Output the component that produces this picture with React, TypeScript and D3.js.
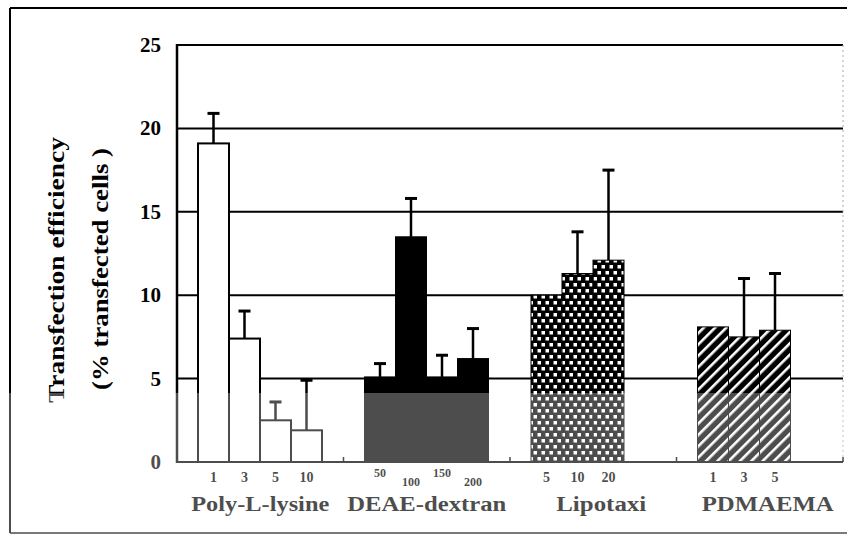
import React from "react";
import * as d3 from "d3";

const groups = ["Poly-L-lysine", "DEAE-dextran", "Lipotaxi", "PDMAEMA"];
const doseLabels = [
  ["1", "3", "5", "10"],
  ["50", "100", "150", "200"],
  ["5", "10", "20"],
  ["1", "3", "5"],
];
const values = [
  [19.1, 7.4, 2.5, 1.9],
  [5.1, 13.5, 5.1, 6.2],
  [10.0, 11.3, 12.1],
  [8.1, 7.5, 7.9],
];
const errors = [
  [1.8, 1.65, 1.1, 3.0],
  [0.8, 2.3, 1.3, 1.8],
  [0, 2.5, 5.4],
  [0, 3.5, 3.4],
];
const yTicks = [0, 5, 10, 15, 20, 25];
const slots = ["s0", "s1", "s2", "s3"];
const fills = ["#ffffff", "#000000", "url(#dots)", "url(#stripes)"];

const W = 847;
const H = 537;
const left = 177;
const right = 843;
const top = 45;
const bottom = 462;
const serif = "'Liberation Serif', 'Times New Roman', serif";

export default function App() {
  const x = d3.scaleBand<string>().domain(groups).range([left, right]).padding(0);
  const inner = d3.scaleBand<string>().domain(slots).range([21, 145]).padding(0);
  const y = d3.scaleLinear().domain([0, 25]).range([bottom, top]);
  const groupLabelWidths = [138, 159, 90, 132];

  return (
    <svg width={W} height={H} style={{ position: "absolute", left: 0, top: 0, background: "#fff" }}>
      <defs>
        <pattern id="dots" width={8} height={12} patternUnits="userSpaceOnUse">
          <rect width={8} height={12} fill="#000" />
          <rect x={1.5} y={1} width={3.5} height={3.5} fill="#fff" />
          <rect x={5.5} y={7} width={3.5} height={3.5} fill="#fff" />
          <rect x={-2.5} y={7} width={3.5} height={3.5} fill="#fff" />
        </pattern>
        <pattern id="stripes" width={8} height={8} patternUnits="userSpaceOnUse" patternTransform="rotate(45)">
          <rect width={8} height={8} fill="#000" />
          <rect x={0} y={0} width={2.6} height={8} fill="#fff" />
        </pattern>
      </defs>

      {/* outer frame */}
      <line x1={10} x2={W} y1={8} y2={8} stroke="#000" strokeWidth={2} />
      <line x1={10} x2={10} y1={8} y2={533} stroke="#000" strokeWidth={2} />
      <line x1={10} x2={W} y1={533} y2={533} stroke="#000" strokeWidth={1.5} />

      {/* gridlines */}
      {yTicks.filter((t) => t > 0).map((t) => (
        <line key={t} x1={left} x2={right} y1={y(t)} y2={y(t)} stroke="#000" strokeWidth={2} />
      ))}
      <line x1={right} x2={right} y1={top} y2={bottom} stroke="#aaa" strokeWidth={1} strokeDasharray="2,3" />

      {/* y tick labels */}
      {yTicks.map((t) => (
        <text key={t} x={161} y={y(t) + 7} textAnchor="end" fontFamily={serif} fontWeight={700} fontSize={21}>
          {t}
        </text>
      ))}

      {/* bars */}
      {groups.map((g, gi) =>
        values[gi].map((v, i) => {
          const bx = (x(g) as number) + (inner(slots[i]) as number);
          const bw = inner.bandwidth();
          return (
            <rect
              key={g + i}
              x={bx}
              y={y(v)}
              width={bw}
              height={bottom - y(v)}
              fill={fills[gi]}
              stroke="#000"
              strokeWidth={gi === 0 ? 2 : 1}
            />
          );
        })
      )}

      {/* error bars */}
      {groups.map((g, gi) =>
        values[gi].map((v, i) => {
          const e = errors[gi][i];
          if (!e) return null;
          const cx = (x(g) as number) + (inner(slots[i]) as number) + inner.bandwidth() / 2;
          return (
            <g key={"e" + g + i}>
              <line x1={cx} x2={cx} y1={y(v)} y2={y(v + e)} stroke="#000" strokeWidth={2.5} />
              <line x1={cx - 6} x2={cx + 6} y1={y(v + e)} y2={y(v + e)} stroke="#000" strokeWidth={3} />
            </g>
          );
        })
      )}

      {/* axes */}
      <line x1={left} x2={left} y1={top - 1} y2={bottom + 1} stroke="#000" strokeWidth={2.5} />
      <line x1={left} x2={right} y1={bottom} y2={bottom} stroke="#000" strokeWidth={2} />
      {groups.map((g) => {
        const gx = (x(g) as number) + x.bandwidth();
        return <line key={"t" + g} x1={gx} x2={gx} y1={bottom} y2={bottom - 5} stroke="#000" strokeWidth={1.5} />;
      })}

      {/* dose labels */}
      {groups.map((g, gi) =>
        doseLabels[gi].map((d, i) => {
          const cx = (x(g) as number) + (inner(slots[i]) as number) + inner.bandwidth() / 2;
          const small = gi === 1;
          const yy = small ? (i % 2 === 0 ? 477 : 486) : 482;
          return (
            <text key={"d" + g + i} x={cx} y={yy} textAnchor="middle" fontFamily={serif} fontWeight={900} fontSize={small ? 12 : 14}>
              {d}
            </text>
          );
        })
      )}

      {/* group labels */}
      {groups.map((g, gi) => {
        const cx = (x(g) as number) + x.bandwidth() / 2 + (gi === 2 ? 8 : gi === 3 ? 8 : 0);
        return (
          <text
            key={"g" + g}
            x={cx}
            y={511}
            textAnchor="middle"
            fontFamily={serif}
            fontWeight={700}
            fontSize={20}
            textLength={groupLabelWidths[gi]}
            lengthAdjust="spacingAndGlyphs"
          >
            {g}
          </text>
        );
      })}

      {/* y axis title */}
      <text
        transform="translate(64,270) rotate(-90)"
        textAnchor="middle"
        fontFamily={serif}
        fontWeight={700}
        fontSize={24}
        textLength={266}
        lengthAdjust="spacingAndGlyphs"
      >
        Transfection efficiency
      </text>
      <text
        transform="translate(108,269) rotate(-90)"
        textAnchor="middle"
        fontFamily={serif}
        fontWeight={700}
        fontSize={24}
        textLength={242}
        lengthAdjust="spacingAndGlyphs"
      >
        (% transfected cells )
      </text>

      {/* watermark band */}
      <rect x={0} y={393} width={W} height={H - 393} fill="#fff" opacity={0.3} />
    </svg>
  );
}
